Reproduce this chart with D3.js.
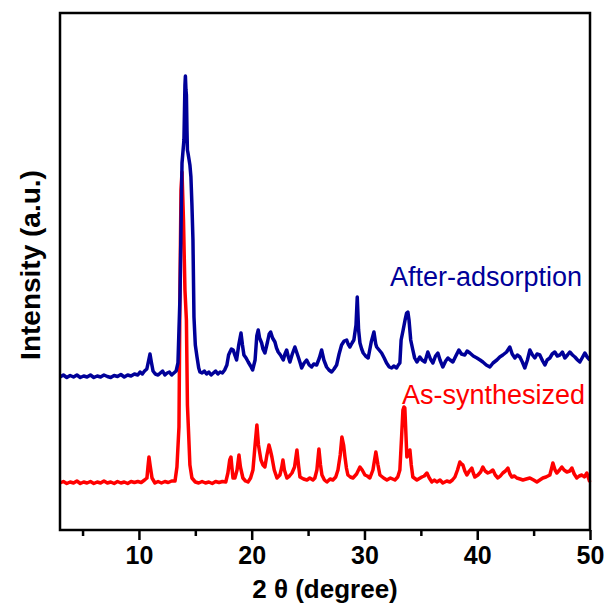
<!DOCTYPE html>
<html>
<head>
<meta charset="utf-8">
<script src="https://cdn.jsdelivr.net/npm/d3@7"></script>
<style>
html,body{margin:0;padding:0;background:#fff;}
svg{display:block;}
</style>
</head>
<body>
<svg id="chart" width="607" height="608"></svg>
<script>
// ---- Data ----
const xTicksMajor = [10, 20, 30, 40, 50];
const xTicksMinor = [5, 15, 25, 35, 45];
const xTitle = "2 θ (degree)";
const yTitle = "Intensity (a.u.)";
const seriesNames = ["As-synthesized", "After-adsorption"];

const afterTheta = [3.0,3.3,3.6,3.9,4.2,4.5,4.8,5.1,5.4,5.7,6.0,6.3,6.6,6.9,7.2,7.5,7.8,8.1,8.4,8.7,9.0,9.3,9.6,9.9,10.1,10.3,10.5,10.7,10.85,10.98,11.1,11.25,11.45,11.7,11.9,12.1,12.3,12.5,12.7,12.9,13.1,13.3,13.46,13.64,13.82,13.99,14.08,14.12,14.17,14.21,14.26,14.30,14.35,14.45,14.52,14.61,14.70,14.79,14.88,15.0,15.15,15.3,15.41,15.6,15.8,16.0,16.2,16.4,16.6,16.8,17.0,17.2,17.4,17.6,17.8,17.95,18.07,18.2,18.36,18.5,18.66,18.85,19.05,19.18,19.31,19.5,19.69,19.9,20.08,20.3,20.45,20.58,20.7,20.88,21.0,21.17,21.4,21.55,21.68,21.85,22.06,22.2,22.35,22.55,22.8,22.95,23.10,23.25,23.39,23.6,23.83,23.95,24.13,24.3,24.43,24.65,24.87,25.1,25.31,25.5,25.76,26.0,26.20,26.4,26.64,26.85,27.09,27.3,27.53,27.75,27.97,28.2,28.42,28.55,28.71,28.9,29.06,29.25,29.36,29.48,29.60,29.75,29.89,30.1,30.33,30.6,30.84,31.0,31.08,31.3,31.52,31.75,31.96,32.2,32.41,32.6,32.85,33.0,33.14,33.25,33.43,33.6,33.74,33.85,33.95,34.1,34.29,34.45,34.65,34.91,35.1,35.36,35.62,35.85,36.07,36.3,36.51,36.7,36.95,37.2,37.40,37.6,37.84,38.1,38.37,38.6,38.90,39.1,39.35,39.65,39.97,40.25,40.50,40.8,41.12,41.4,41.74,42.0,42.27,42.6,42.89,43.1,43.34,43.55,43.78,44.0,44.22,44.45,44.67,44.9,45.11,45.3,45.55,45.8,46.0,46.2,46.44,46.65,46.88,47.1,47.33,47.55,47.77,48.0,48.21,48.45,48.66,48.9,49.10,49.3,49.54,49.75,49.98];
const afterI = [306,310,305,309,306,310,305,308,306,310,305,308,306,310,307,305,309,307,311,306,310,308,312,310,316,312,318,322,338,352,336,318,312,310,314,318,310,314,316,310,314,318,334,466,734,780,890,908,880,870,800,760,754,740,730,706,650,580,426,370,346,324,316,314,318,312,316,310,314,318,312,316,314,320,330,350,356,362,360,350,340,370,394,370,350,344,336,328,320,340,388,400,384,374,362,354,376,392,396,384,376,364,356,350,340,352,360,346,336,352,366,358,346,334,324,334,340,330,326,332,330,344,360,340,326,320,316,322,330,352,370,378,380,372,366,374,380,410,466,400,374,362,354,348,344,376,396,372,366,360,354,344,334,326,324,328,324,330,334,380,400,420,434,436,420,380,360,344,336,346,340,336,356,342,334,348,354,340,326,338,344,340,336,348,360,352,350,358,354,348,344,340,336,330,326,334,340,346,350,356,366,352,344,350,346,336,324,340,360,350,344,352,350,338,330,340,344,352,356,348,350,356,344,350,356,350,346,340,336,344,354,346,340];

const asTheta = [3.0,3.3,3.6,3.9,4.2,4.5,4.8,5.1,5.4,5.7,6.0,6.3,6.6,6.9,7.2,7.5,7.8,8.1,8.4,8.7,9.0,9.3,9.6,9.9,10.2,10.5,10.71,10.8,10.89,11.0,11.16,11.42,11.7,12.0,12.3,12.6,12.9,13.2,13.37,13.55,13.64,13.73,13.82,13.95,14.08,14.21,14.30,14.40,14.52,14.70,15.0,15.3,15.6,15.9,16.2,16.5,16.8,17.1,17.4,17.7,17.89,18.05,18.16,18.25,18.34,18.51,18.7,18.87,19.0,19.22,19.45,19.67,19.9,20.11,20.3,20.46,20.6,20.82,21.0,21.17,21.35,21.53,21.65,21.79,22.0,22.24,22.50,22.65,22.77,22.9,23.12,23.35,23.57,23.8,24.01,24.15,24.28,24.6,24.90,25.15,25.43,25.6,25.78,25.96,26.1,26.23,26.45,26.67,26.95,27.20,27.45,27.65,27.85,28.00,28.15,28.27,28.4,28.53,28.75,28.98,29.3,29.60,29.8,30.04,30.25,30.48,30.75,31.01,31.2,31.37,31.7,31.99,32.3,32.70,32.95,33.14,33.3,33.41,33.5,33.58,33.68,33.76,33.9,34.03,34.15,34.29,34.65,35.09,35.3,35.54,35.75,35.98,36.2,36.42,36.7,36.95,37.3,37.57,37.8,38.02,38.25,38.46,38.6,38.73,38.9,39.08,39.3,39.52,39.65,39.79,40.06,40.3,40.50,40.7,40.94,41.15,41.39,41.6,41.83,42.05,42.27,42.5,42.72,42.9,43.07,43.3,43.51,43.8,44.05,44.35,44.67,45.0,45.29,45.55,45.82,46.1,46.44,46.6,46.71,46.9,47.06,47.3,47.50,47.7,47.95,48.2,48.39,48.6,48.83,49.05,49.28,49.5,49.72,49.98];
const asI = [94,97,93,96,94,98,93,96,94,97,93,96,94,98,94,96,93,97,94,96,93,97,95,97,95,100,104,126,146,128,104,94,97,94,97,95,98,98,126,206,480,680,716,620,480,420,250,196,130,104,96,94,97,94,96,93,97,95,97,96,114,140,146,124,104,104,120,150,126,104,98,96,104,120,170,210,170,140,130,126,150,170,160,146,120,104,110,124,140,120,104,108,114,126,160,130,106,102,100,104,100,104,120,162,130,110,100,96,102,100,106,120,150,186,170,146,124,110,106,104,112,126,120,110,108,104,120,156,130,110,104,100,104,100,106,120,190,240,246,244,190,146,150,160,130,106,100,106,108,114,104,96,100,96,100,94,98,96,100,106,120,136,132,130,118,110,118,124,114,106,110,116,126,118,114,116,120,110,104,108,114,118,124,112,106,108,104,102,100,102,104,100,96,100,104,106,110,124,134,120,114,120,126,120,116,118,124,112,104,108,110,106,114,96];

// ---- Layout ----
const mLeft = 60, mRight = 590, mTop = 13, mBottom = 530;
const svg = d3.select("#chart");

const x = d3.scaleLinear().domain([3, 50]).range([mLeft, mRight]);
const y = d3.scaleLinear().domain([0, 1034]).range([mBottom, mTop]);

const line = d3.line()
  .x(d => x(d[0]))
  .y(d => y(d[1]));

const asData = d3.zip(asTheta, asI);
const afterData = d3.zip(afterTheta, afterI);

svg.append("path")
  .datum(asData)
  .attr("d", line)
  .attr("fill", "none")
  .attr("stroke", "#ff0000")
  .attr("stroke-width", 3.5)
  .attr("stroke-linejoin", "round");

svg.append("path")
  .datum(afterData)
  .attr("d", line)
  .attr("fill", "none")
  .attr("stroke", "#000099")
  .attr("stroke-width", 3.5)
  .attr("stroke-linejoin", "round");

// axes
const axMajor = d3.axisBottom(x).tickValues(xTicksMajor).tickSize(10).tickSizeOuter(0).tickPadding(6);
const gMaj = svg.append("g").attr("transform", `translate(0,${mBottom})`).call(axMajor);
gMaj.select(".domain").remove();
gMaj.selectAll(".tick line").attr("stroke", "#000").attr("stroke-width", 2.5);
gMaj.selectAll(".tick text")
  .attr("font-family", "'Liberation Sans', Arial, sans-serif")
  .attr("font-weight", "bold")
  .attr("font-size", 25)
  .attr("fill", "#000");

const axMinor = d3.axisBottom(x).tickValues(xTicksMinor).tickSize(6).tickSizeOuter(0).tickFormat("");
const gMin = svg.append("g").attr("transform", `translate(0,${mBottom})`).call(axMinor);
gMin.select(".domain").remove();
gMin.selectAll(".tick line").attr("stroke", "#000").attr("stroke-width", 2.5);

// frame
svg.append("rect")
  .attr("x", mLeft).attr("y", mTop)
  .attr("width", mRight - mLeft).attr("height", mBottom - mTop)
  .attr("fill", "none").attr("stroke", "#000").attr("stroke-width", 2.5);

// titles
svg.append("text")
  .attr("x", (mLeft + mRight) / 2).attr("y", 598)
  .attr("text-anchor", "middle")
  .attr("font-family", "'Liberation Sans', Arial, sans-serif")
  .attr("font-weight", "bold").attr("font-size", 26)
  .text(xTitle);

svg.append("text")
  .attr("transform", "translate(40,265) rotate(-90)")
  .attr("text-anchor", "middle")
  .attr("font-family", "'Liberation Sans', Arial, sans-serif")
  .attr("font-weight", "bold").attr("font-size", 28)
  .text(yTitle);

// series labels
svg.append("text")
  .attr("x", 582).attr("y", 286)
  .attr("text-anchor", "end")
  .attr("font-family", "'Liberation Sans', Arial, sans-serif")
  .attr("font-size", 27)
  .attr("fill", "#000099")
  .text(seriesNames[1]);

svg.append("text")
  .attr("x", 585).attr("y", 404)
  .attr("text-anchor", "end")
  .attr("font-family", "'Liberation Sans', Arial, sans-serif")
  .attr("font-size", 27)
  .attr("fill", "#ff0000")
  .text(seriesNames[0]);
</script>
</body>
</html>
